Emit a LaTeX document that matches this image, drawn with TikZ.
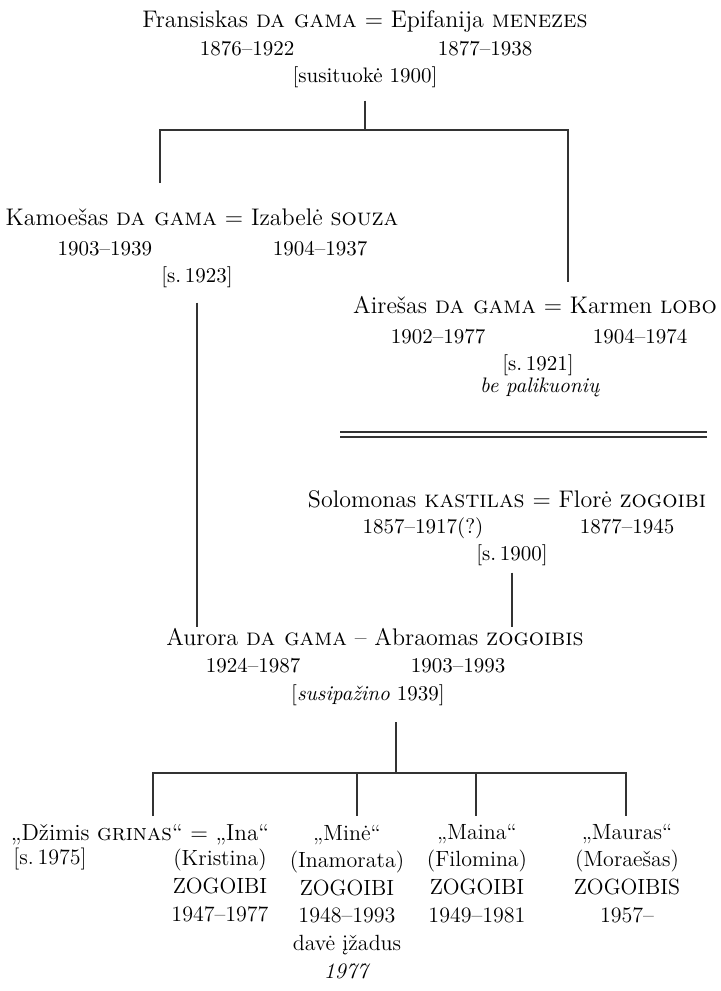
\documentclass[tikz,border=0pt]{standalone}
\usepackage{tikz}
\tikzset{
    pers/.style = {inner sep=0pt, anchor=base, font=\fontsize{12}{14}\selectfont},
    yrs/.style  = {inner sep=0pt, anchor=base, font=\fontsize{10.5}{13}\selectfont},
    kid/.style  = {inner sep=0pt, anchor=base, font=\fontsize{11}{13.8}\selectfont},
    col/.style  = {kid, align=center},
    tree/.style = {draw=black!80, line width=0.75pt},
}

\begin{document}
\begin{tikzpicture}[x=0.5pt,y=-0.5pt]
 \useasboundingbox (0,0) rectangle (720,991);

 % first generation
 \node (n1)  [pers] at (365,27) {Fransiskas \textsc{da gama} = Epifanija \textsc{menezes}};
 \node (n1a) [yrs] at (247,55) {1876–1922};
 \node (n1b) [yrs] at (485,55) {1877–1938};
 \node (w1)  [yrs] at (365,82) {[susituokė 1900]};

 % their sons
 \node (n2)  [pers] at (202,225) {Kamoešas \textsc{da gama} = Izabelė \textsc{souza}};
 \node (n2a) [yrs] at (105,255) {1903–1939};
 \node (n2b) [yrs] at (320,255) {1904–1937};
 \node (w2)  [yrs] at (197,282) {[s.\,1923]};

 \node (n3)  [pers] at (535,313) {Airešas \textsc{da gama} = Karmen \textsc{lobo}};
 \node (n3a) [yrs] at (438,343) {1902–1977};
 \node (n3b) [yrs] at (640,343) {1904–1974};
 \node (w3)  [yrs] at (538,370) {[s.\,1921]};
 \node (w3n) [yrs] at (540,392) {\textit{be palikuonių}};

 % the other side
 \node (n4)  [pers] at (507,507) {Solomonas \textsc{kastilas} = Florė \textsc{zogoibi}};
 \node (n4a) [yrs] at (423,533) {1857–1917(?)};
 \node (n4b) [yrs] at (627,533) {1877–1945};
 \node (w4)  [yrs] at (512,560) {[s.\,1900]};

 \node (n5)  [pers] at (375,645) {Aurora \textsc{da gama} – Abraomas \textsc{zogoibis}};
 \node (n5a) [yrs] at (253,672) {1924–1987};
 \node (n5b) [yrs] at (458,672) {1903–1993};
 \node (w5)  [yrs] at (368,700) {[\textit{susipažino} 1939]};

 % children (base = last line)
 \node (k1)  [kid, font=\fontsize{11.6}{13.8}\selectfont] at (140,840) {„Džimis \textsc{grinas}“ = „Ina“};
 \node (k1s) [kid, anchor=base west] at (13,864) {[s.\,1975]};
 \node (k1b) [col] at (220,921) {(Kristina)\\ZOGOIBI\\1947–1977};
 \node (k2)  [col] at (347,978) {„Minė“\\(Inamorata)\\ZOGOIBI\\1948–1993\\davė įžadus\\\textit{1977}};
 \node (k3)  [col] at (477,922) {„Maina“\\(Filomina)\\ZOGOIBI\\1949–1981};
 \node (k4)  [col] at (627,922) {„Mauras“\\(Moraešas)\\ZOGOIBIS\\1957–};

 % lines
 \coordinate (c1) at (365,130);
 \coordinate (c2) at (160,183);
 \coordinate (c3) at (568,282);
 \draw[tree, shorten <=6.5pt] (w1) -- (c1);
 \draw[tree] (c2) |- (c1) -| (c3);

 \coordinate (r1) at (340,434.5);
 \coordinate (r2) at (707,434.5);
 \draw[tree, double, double distance=1.75pt] (r1) -- (r2);

 \draw[tree, shorten <=7.5pt] (w2) -- (w2 |- n5.north);
 \draw[tree, shorten <=3.5pt] (w4) -- (w4 |- n5.north);

 \coordinate (c4) at (396,722);
 \coordinate (c5) at (396,773);
 \coordinate (d1) at (153,816);
 \coordinate (d2) at (357,816);
 \coordinate (d3) at (476,816);
 \coordinate (d4) at (626,816);
 \draw[tree] (c4) -- (c5);
 \draw[tree] (d1) |- (c5) -| (d4);
 \draw[tree] (d2 |- c5) -- (d2);
 \draw[tree] (d3 |- c5) -- (d3);
\end{tikzpicture}
\end{document}
